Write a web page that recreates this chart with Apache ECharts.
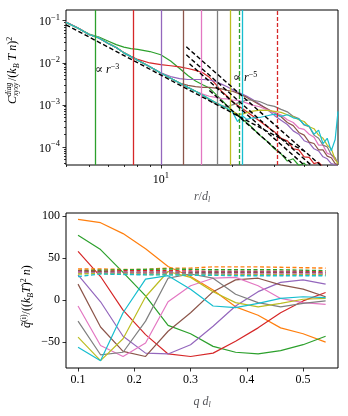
<!DOCTYPE html>
<html><head><meta charset="utf-8">
<script src="https://cdn.jsdelivr.net/npm/echarts@6/dist/echarts.min.js"></script>
<style>html,body{margin:0;padding:0;background:#fff}#c{width:348px;height:416px}</style>
</head><body><div id="c"></div><script>
// ---------- colours (matplotlib tab10) ----------
const C_GREEN='#2ca02c', C_RED='#d62728', C_PURPLE='#9467bd', C_BROWN='#8c564b', C_PINK='#e377c2',
      C_GRAY='#7f7f7f', C_OLIVE='#bcbd22', C_CYAN='#17becf', C_ORANGE='#ff7f0e';
const FONT='"Liberation Serif", "DejaVu Serif", serif';

// ---------- top panel data ----------
const R = [4,4.5,5,5.5,6,6.5,7,7.5,8,9,10,11,12,13,14,15,16,17,18,19,20,21,22,23,24,26,28,30,32,34,36,38,40,42,44,46,48,50,52,54,55.5];
const topGreen  = [0.091,0.066,0.048,0.041,0.033,0.027,0.0235,0.0218,0.0208,0.0185,0.0155,0.011,0.0073,0.005,0.0037,0.003,0.0025,0.0018,0.0013,0.00095,0.00072,0.00056,0.00046,0.00037,0.0003,0.00019,0.000135,0.00009,0.000068,0.000046,0.000052,0.000036,0.000041,0.00003,0.000027,0.000024,0.00002,0.000018,0.000016,0.000015,0.000014];
const topRed    = [0.093,0.067,0.047,0.039,0.029,0.023,0.0175,0.0143,0.012,0.0099,0.009,0.0085,0.008,0.0073,0.0066,0.0058,0.0045,0.0031,0.0021,0.0016,0.0012,0.00098,0.00082,0.00068,0.00057,0.00041,0.0003,0.00023,0.00016,0.00014,0.00009,0.000085,0.000058,0.000056,0.00004,0.000043,0.000033,0.00003,0.000027,0.000025,0.000024];
const topPurple = [0.092,0.066,0.047,0.039,0.029,0.023,0.0172,0.014,0.0115,0.008,0.0058,0.0047,0.0042,0.004,0.004,0.004,0.0039,0.0036,0.0031,0.0027,0.0023,0.002,0.0018,0.0016,0.0014,0.00105,0.00077,0.00056,0.00043,0.00034,0.00024,0.0002,0.00014,0.000125,0.00009,0.00008,0.000058,0.000052,0.00004,0.000038,0.000032];
const topBrown  = [0.092,0.066,0.047,0.039,0.029,0.023,0.0172,0.014,0.0115,0.008,0.0057,0.0043,0.0033,0.0029,0.0027,0.0026,0.0026,0.0025,0.0024,0.0022,0.0021,0.0019,0.0017,0.0015,0.0013,0.001,0.0008,0.00065,0.00052,0.00038,0.00032,0.00022,0.00019,0.00013,0.00012,0.000085,0.000085,0.00006,0.000055,0.00004,0.000038];
const topPink   = [0.094,0.067,0.047,0.039,0.029,0.023,0.0172,0.014,0.0115,0.008,0.0057,0.0043,0.0033,0.0026,0.0021,0.0018,0.0016,0.0015,0.0014,0.00138,0.0013,0.00128,0.0012,0.0011,0.001,0.0009,0.00076,0.00066,0.00057,0.00044,0.00038,0.00028,0.00026,0.0002,0.00017,0.00011,0.00011,0.00007,0.000065,0.000048,0.000045];
const topGray   = [0.092,0.066,0.047,0.039,0.029,0.023,0.0172,0.014,0.0115,0.008,0.0057,0.0043,0.0033,0.0026,0.0021,0.0017,0.0013,0.00105,0.00095,0.0009,0.001,0.0011,0.0012,0.0013,0.0013,0.0012,0.001,0.00092,0.00078,0.00068,0.00053,0.00047,0.00033,0.0003,0.00019,0.00016,0.00011,0.0001,0.000065,0.000055,0.00004];
const topOlive  = [0.092,0.066,0.047,0.039,0.029,0.023,0.0172,0.014,0.0115,0.008,0.0057,0.0043,0.0033,0.0026,0.0021,0.0017,0.00138,0.00114,0.00096,0.0008,0.0007,0.0006,0.0006,0.00065,0.0007,0.00075,0.00074,0.0007,0.00066,0.00058,0.00052,0.00044,0.0004,0.0003,0.00027,0.00019,0.00016,0.00011,0.00009,0.00005,0.00004];
const topCyan   = [0.092,0.066,0.047,0.039,0.029,0.023,0.0172,0.014,0.0115,0.008,0.0057,0.0043,0.0033,0.0026,0.0021,0.0017,0.00138,0.00114,0.00096,0.00082,0.00068,0.0004,0.00055,0.00045,0.00048,0.0005,0.00055,0.0006,0.00053,0.00058,0.00049,0.00046,0.00034,0.00031,0.0002,0.00025,0.00012,0.00016,0.00008,0.00015,0.0007];

const vlineSolidX = [5.32, 7.7, 10.0, 12.4, 14.8, 17.2, 19.5, 22.0];
const vlineSolidColor = [C_GREEN, C_RED, C_PURPLE, C_BROWN, C_PINK, C_GRAY, C_OLIVE, C_CYAN];
const vlineDashedX = [21.3, 30.7];
const vlineDashedColor = [C_GREEN, C_RED];

const refR3 = [[4, 0.08], [40, 0.00008]];
const refR5a = [[12.8, 0.024], [47, 0.000036]];
const refR5b = [[12.8, 0.0155], [43, 0.000036]];
const refR5c = [[13.2, 0.0095], [40, 0.000037]];
const refR5d = [[16, 0.0022], [36, 0.000038]];

const xMajorTop = [10];
const xMinorTop = [4,5,6,7,8,9,20,30,40,50];
const yMajorTop = [1e-4,1e-3,1e-2,1e-1];
const yMinorTop = [4e-5,5e-5,6e-5,7e-5,8e-5,9e-5,2e-4,3e-4,4e-4,5e-4,6e-4,7e-4,8e-4,9e-4,2e-3,3e-3,4e-3,5e-3,6e-3,7e-3,8e-3,9e-3,2e-2,3e-2,4e-2,5e-2,6e-2,7e-2,8e-2,9e-2];

// ---------- bottom panel data ----------
const Q = [0.10,0.14,0.18,0.22,0.26,0.30,0.34,0.38,0.42,0.46,0.50,0.54];
const qOrange = [96,92,79,61,40,28,12,-8,-18,-33,-40,-50];
const qGreen  = [77,60,33,5,-30,-40,-55,-62,-64,-60,-53,-43];
const qRed    = [58,28,-12,-41,-64,-67,-63,-49,-33,-15,-1,9];
const qPurple = [30,-2,-43,-63,-64,-53,-31,-7,10,21,24,19];
const qBrown  = [19,-32,-61,-67,-37,-15,10,24,26,18,13,4];
const qPink   = [-7,-54,-67,-51,-2,17,26,27,17,2,-3,-5];
const qGray   = [-25,-65,-62,-25,26,31,26,7,-3,-8,-4,-1];
const qOlive  = [-44,-72,-46,4,34,27,10,-3,-8,-4,1,2];
const qCyan   = [-56,-72,-15,25,29,13,-7,-9,-4,2,4,3];
const dOrange = [37,37,36.5,36.5,38,38,39.5,39.5,39.5,39,38.5,38];
const dGreen  = [35,35.5,36,36.5,37,36.5,36,36,36,36,35.5,35];
const dRed    = [34,34,35,35,35,34.5,34,34,34,34,34,33.5];
const dPurple = [33,33,33,33,33.5,33,33,33,33,33,33,32.5];
const dBrown  = [35,34,33,33,33,32.5,32.5,32.5,32.5,32.5,32.5,32];
const dPink   = [33,32,32,32,32,31.5,31.5,31.5,31.5,31.5,31.5,31];
const dGray   = [32,32,31,31,31,31,31,30.5,30.5,30.5,30.5,30.5];
const dOlive  = [31,31.5,31,30.5,30.5,30,30,30,30,30,30,30];
const dCyan   = [28,31,30.5,30,30,29.5,29.5,29,29,29,29,29];
const xTicksBottom = [0.1,0.2,0.3,0.4,0.5];
const yTicksBottom = [-50,0,50,100];

// ---------- helpers ----------
const zip = (xs, ys) => xs.map((x, i) => [x, ys[i]]);
const powFmt = v => { const e = Math.round(Math.log10(v)); return '{b|10}{s|' + (e < 0 ? '\u2212' : '') + Math.abs(e) + '}'; };
const labRich = { b: {fontFamily: FONT, fontSize: 12, lineHeight: 15, verticalAlign: 'bottom', color: '#000'},
                  s: {fontFamily: FONT, fontSize: 8.5, lineHeight: 9, verticalAlign: 'top', color: '#000'} };
const tickStyle = {color: '#000', width: 0.8};

function curve(data, color, xi, yi, dashed) {
  return {type: 'line', xAxisIndex: xi, yAxisIndex: yi, data: data, showSymbol: false, symbol: 'none',
          animation: false, silent: true, clip: true,
          lineStyle: {color: color, width: dashed ? 1.4 : 1.2, type: dashed ? [4, 2.5] : 'solid'}};
}
function ref(data) {
  return {type: 'line', xAxisIndex: 0, yAxisIndex: 0, data: data, showSymbol: false, symbol: 'none',
          animation: false, silent: true, clip: true, z: 5,
          lineStyle: {color: '#000', width: 1.4, type: [4.5, 2.5]}};
}

const vlines = vlineSolidX.map((x, i) => ({xAxis: x, lineStyle: {color: vlineSolidColor[i], type: 'solid', width: 1.3}}))
  .concat(vlineDashedX.map((x, i) => ({xAxis: x, lineStyle: {color: vlineDashedColor[i], type: [4, 2], width: 1.3}})));

const series = [
  {type: 'line', xAxisIndex: 0, yAxisIndex: 0, data: [], animation: false, silent: true,
   markLine: {symbol: 'none', silent: true, animation: false, label: {show: false}, data: vlines}},
  curve(zip(R, topGreen), C_GREEN, 0, 0), curve(zip(R, topRed), C_RED, 0, 0),
  curve(zip(R, topPurple), C_PURPLE, 0, 0), curve(zip(R, topBrown), C_BROWN, 0, 0),
  curve(zip(R, topPink), C_PINK, 0, 0), curve(zip(R, topGray), C_GRAY, 0, 0),
  curve(zip(R, topOlive), C_OLIVE, 0, 0), curve(zip(R, topCyan), C_CYAN, 0, 0),
  ref(refR3), ref(refR5a), ref(refR5b), ref(refR5c), ref(refR5d),
  curve(zip(Q, qOrange), C_ORANGE, 2, 2), curve(zip(Q, qGreen), C_GREEN, 2, 2),
  curve(zip(Q, qRed), C_RED, 2, 2), curve(zip(Q, qPurple), C_PURPLE, 2, 2),
  curve(zip(Q, qBrown), C_BROWN, 2, 2), curve(zip(Q, qPink), C_PINK, 2, 2),
  curve(zip(Q, qGray), C_GRAY, 2, 2), curve(zip(Q, qOlive), C_OLIVE, 2, 2),
  curve(zip(Q, qCyan), C_CYAN, 2, 2),
  curve(zip(Q, dOrange), C_ORANGE, 2, 2, true), curve(zip(Q, dGreen), C_GREEN, 2, 2, true),
  curve(zip(Q, dRed), C_RED, 2, 2, true), curve(zip(Q, dPurple), C_PURPLE, 2, 2, true),
  curve(zip(Q, dBrown), C_BROWN, 2, 2, true), curve(zip(Q, dPink), C_PINK, 2, 2, true),
  curve(zip(Q, dGray), C_GRAY, 2, 2, true), curve(zip(Q, dOlive), C_OLIVE, 2, 2, true),
  curve(zip(Q, dCyan), C_CYAN, 2, 2, true)
];

const T = (text, x, y, size) => ({type: 'text', x: x, y: y,
  style: {text: text, fontFamily: FONT, fontSize: size, fontStyle: 'italic', fill: '#000', verticalAlign: 'middle', align: 'left'}});

const subRich = {
  i: {fontFamily: FONT, fontSize: 12, fontStyle: 'italic', lineHeight: 15, verticalAlign: 'middle'},
  n: {fontFamily: FONT, fontSize: 12, fontStyle: 'normal', lineHeight: 15, verticalAlign: 'middle'},
  sb: {fontFamily: FONT, fontSize: 8, fontStyle: 'italic', lineHeight: 8, verticalAlign: 'bottom'},
  sbn: {fontFamily: FONT, fontSize: 8, fontStyle: 'normal', lineHeight: 8, verticalAlign: 'bottom'},
  sp: {fontFamily: FONT, fontSize: 8, fontStyle: 'normal', lineHeight: 8, verticalAlign: 'top'}
};

const option = {
  animation: false,
  backgroundColor: '#fff',
  grid: [
    {left: 66, top: 10, width: 272, height: 155, show: true, borderColor: '#000', borderWidth: 1, backgroundColor: 'transparent'},
    {left: 66, top: 213, width: 272, height: 155, show: true, borderColor: '#000', borderWidth: 1, backgroundColor: 'transparent'}
  ],
  xAxis: [
    {gridIndex: 0, type: 'log', min: 4, max: 55.5, position: 'bottom',
     axisLine: {show: false, onZero: false}, splitLine: {show: false},
     axisTick: {show: true, customValues: xMajorTop, length: 3.5, lineStyle: tickStyle},
     axisLabel: {show: true, customValues: xMajorTop, formatter: powFmt, rich: labRich, margin: 6},
     name: '{i|r}{n|/}{i|d}{sb|l}', nameLocation: 'middle', nameGap: 24,
     nameTextStyle: {rich: subRich}},
    {gridIndex: 0, type: 'log', min: 4, max: 55.5, position: 'bottom',
     axisLine: {show: false, onZero: false}, splitLine: {show: false},
     axisTick: {show: true, customValues: xMinorTop, length: 2, lineStyle: tickStyle},
     axisLabel: {show: false}},
    {gridIndex: 1, type: 'value', min: 0.0786, max: 0.562, position: 'bottom',
     axisLine: {show: false, onZero: false}, splitLine: {show: false},
     axisTick: {show: true, customValues: xTicksBottom, length: 3.5, lineStyle: tickStyle},
     axisLabel: {show: true, customValues: xTicksBottom, fontFamily: FONT, fontSize: 12, color: '#000', margin: 6,
                 formatter: v => String(v)},
     name: '{i|q d}{sb|l}', nameLocation: 'middle', nameGap: 26,
     nameTextStyle: {rich: subRich}}
  ],
  yAxis: [
    {gridIndex: 0, type: 'log', min: 3.7e-5, max: 0.18, position: 'left',
     axisLine: {show: false, onZero: false}, splitLine: {show: false},
     axisTick: {show: true, customValues: yMajorTop, length: 3.5, lineStyle: tickStyle},
     axisLabel: {show: true, customValues: yMajorTop, formatter: powFmt, rich: labRich, margin: 6}},
    {gridIndex: 0, type: 'log', min: 3.7e-5, max: 0.18, position: 'left',
     axisLine: {show: false, onZero: false}, splitLine: {show: false},
     axisTick: {show: true, customValues: yMinorTop, length: 2, lineStyle: tickStyle},
     axisLabel: {show: false}},
    {gridIndex: 1, type: 'value', min: -80.7, max: 103.5, position: 'left',
     axisLine: {show: false, onZero: false}, splitLine: {show: false},
     axisTick: {show: true, customValues: yTicksBottom, length: 3.5, lineStyle: tickStyle},
     axisLabel: {show: true, customValues: yTicksBottom, fontFamily: FONT, fontSize: 12, color: '#000', margin: 6,
                 formatter: v => (v < 0 ? '\u2212' + Math.abs(v) : String(v))}}
  ],
  graphic: [
    {type: 'group', x: 13, y: 74, rotation: Math.PI / 2, children: [
      T('C', -30, 0, 12),
      T('diag', -22, -3.5, 7.5),
      T('xyxy', -22, 3.5, 7.5),
      {type: 'text', x: -7, y: 0, style: {text: '{n|/(}{i|k}{sb|B}{i| T n}{n|)}{sp|2}', rich: subRich, verticalAlign: 'middle', align: 'left'}}
    ]},
    {type: 'group', x: 27, y: 287, rotation: Math.PI / 2, children: [
      {type: 'text', x: -41, y: 0, style: {text: '{i|q\u0303}{sp|(i)}{n|/((}{i|k}{sb|B}{i|T}{n|)}{sp|2}{i| n}{n|)}', rich: subRich, verticalAlign: 'middle', align: 'left'}}
    ]},
    {type: 'text', x: 95, y: 70, style: {text: '{n|\u221d }{i|r}{sp|\u22123}', rich: subRich, verticalAlign: 'middle', align: 'left'}},
    {type: 'text', x: 233, y: 78, style: {text: '{n|\u221d }{i|r}{sp|\u22125}', rich: subRich, verticalAlign: 'middle', align: 'left'}}
  ],
  series: series
};
const chart = echarts.init(document.getElementById('c'), null, {renderer: 'canvas'});
chart.setOption(option);
</script></body></html>
